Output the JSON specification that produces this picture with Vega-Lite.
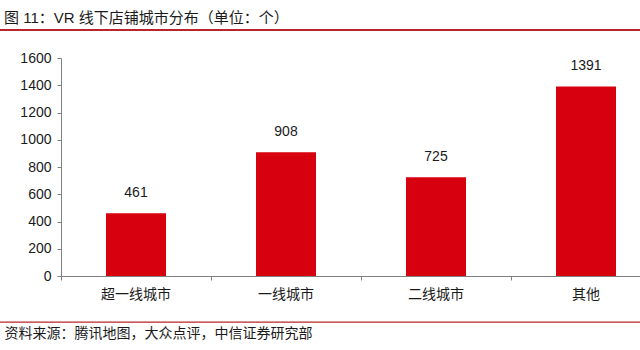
{
  "$schema": "https://vega.github.io/schema/vega-lite/v6.json",
  "autosize": {"type": "none"},
  "width": 640,
  "height": 218,
  "padding": {"left": 0, "top": 58, "right": 0, "bottom": 74},
  "background": "white",
  "config": {
    "view": {"stroke": null},
    "font": "Liberation Sans, Noto Sans CJK SC, sans-serif",
    "axisY": {
      "title": null,
      "offset": -61,
      "values": [0, 200, 400, 600, 800, 1000, 1200, 1400, 1600],
      "format": "d",
      "labelOverlap": false,
      "labelFlush": false,
      "grid": false,
      "labelFontSize": 14,
      "labelColor": "#1a1a1a",
      "labelPadding": 6,
      "domainColor": "#808080",
      "tickColor": "#808080",
      "tickSize": 4
    }
  },
  "title": {
    "text": "图 11：VR 线下店铺城市分布（单位：个）",
    "anchor": "start",
    "frame": "group",
    "dx": 4,
    "offset": 3,
    "fontSize": 15,
    "fontWeight": "normal",
    "color": "#1a1a1a",
    "font": "Liberation Sans, Noto Sans CJK SC, sans-serif"
  },
  "data": {
    "values": [
      {"city": "超一线城市", "count": 461},
      {"city": "一线城市", "count": 908},
      {"city": "二线城市", "count": 725},
      {"city": "其他", "count": 1391}
    ]
  },
  "layer": [
    {
      "mark": {"type": "bar", "color": "#d7000f"},
      "encoding": {
        "x": {
          "field": "city",
          "type": "nominal",
          "sort": null,
          "scale": {"range": [61, 661], "paddingInner": 0.6, "paddingOuter": 0.3},
          "axis": {
            "title": "资料来源：腾讯地图，大众点评，中信证券研究部",
            "titleX": 4,
            "titleY": 57,
            "titleAnchor": "start",
            "titleAlign": "left",
            "titleBaseline": "middle",
            "titleFontSize": 14,
            "titleFontWeight": "normal",
            "titleColor": "#1a1a1a",
            "labelAngle": 0,
            "labelFontSize": 14,
            "labelColor": "#1a1a1a",
            "labelPadding": 7,
            "domainColor": "#808080",
            "tickColor": "#808080",
            "tickSize": 4,
            "bandPosition": -0.75,
            "grid": false
          }
        },
        "y": {
          "field": "count",
          "type": "quantitative",
          "title": null,
          "scale": {"domain": [0, 1600], "nice": false},
          "axis": {"values": [0, 200, 400, 600, 800, 1000, 1200, 1400, 1600], "offset": -61}
        }
      }
    },
    {
      "mark": {"type": "text", "dy": -13, "baseline": "bottom", "fontSize": 14, "color": "#1a1a1a"},
      "encoding": {
        "x": {"field": "city", "type": "nominal", "sort": null},
        "y": {"field": "count", "type": "quantitative", "title": null, "axis": {"values": [0, 200, 400, 600, 800, 1000, 1200, 1400, 1600], "offset": -61}},
        "text": {"field": "count", "type": "quantitative"}
      }
    },
    {
      "data": {"values": [{"pos": 1805}]},
      "mark": {"type": "rule", "color": "#b8262b", "strokeWidth": 2},
      "encoding": {"y": {"field": "pos", "type": "quantitative", "title": null, "axis": {"values": [0, 200, 400, 600, 800, 1000, 1200, 1400, 1600], "offset": -61}}}
    },
    {
      "data": {"values": [{"pos": -338}]},
      "mark": {"type": "rule", "color": "#b8262b", "strokeWidth": 1.2},
      "encoding": {"y": {"field": "pos", "type": "quantitative", "title": null, "axis": {"values": [0, 200, 400, 600, 800, 1000, 1200, 1400, 1600], "offset": -61}}}
    }
  ]
}
